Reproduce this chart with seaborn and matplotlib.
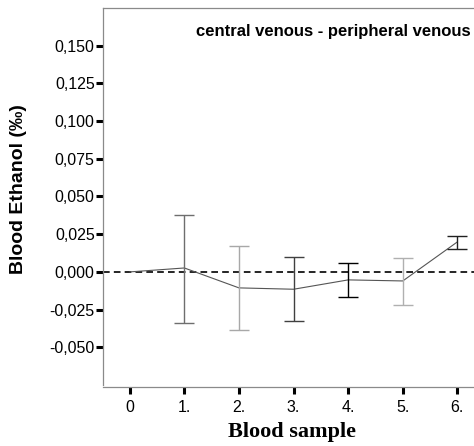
import matplotlib
matplotlib.use("Agg")
import matplotlib.pyplot as plt
import seaborn as sns
import pandas as pd
import numpy as np

samples = [0, 1, 2, 3, 4, 5, 6]
tick_labels = ["0", "1.", "2.", "3.", "4.", "5.", "6."]
means = [0.000, 0.0026, -0.0106, -0.0115, -0.0053, -0.0060, 0.0199]
upper = [0.000, 0.0378, 0.0170, 0.0102, 0.0058, 0.0091, 0.0241]
lower = [0.000, -0.0340, -0.0383, -0.0325, -0.0164, -0.0221, 0.0152]
bar_colors = ["#000000", "#6e6e6e", "#a8a8a8", "#404040", "#000000", "#b0b0b0", "#202020"]
yticks = [-0.050, -0.025, 0.000, 0.025, 0.050, 0.075, 0.100, 0.125, 0.150]
ytick_labels = ["-0,050", "-0,025", "0,000", "0,025", "0,050", "0,075", "0,100", "0,125", "0,150"]

sns.set_style("white")
SANS = ['Liberation Sans', 'DejaVu Sans']
plt.rcParams['font.family'] = SANS
plt.rcParams['text.color'] = 'black'

df = pd.DataFrame({"sample": samples, "mean": means})

fig = plt.figure(figsize=(4.74, 4.46), dpi=100)
ax = fig.add_axes([103/474, 61/446, 381.7/474, 377/446])

sns.lineplot(data=df, x="sample", y="mean", ax=ax, color="#555555", linewidth=0.8)

for i in range(1, len(samples)):
    ax.errorbar([samples[i]], [means[i]],
                yerr=[[means[i] - lower[i]], [upper[i] - means[i]]],
                fmt="none", ecolor=bar_colors[i], elinewidth=1.0, capsize=7.5, capthick=1.0)

ax.axhline(0, color="black", linestyle=(0, (4, 2.5)), linewidth=1.2, zorder=0.5)

ax.set_xlim(-0.49, 6.5)
ax.set_ylim(-0.075, 0.175)
ax.set_xticks(samples)
ax.set_xticklabels(tick_labels)
ax.set_yticks(yticks)
ax.set_yticklabels(ytick_labels)

for side in ["top", "left", "bottom"]:
    ax.spines[side].set_color("#8a8a8a")
    ax.spines[side].set_linewidth(0.9)
ax.spines["right"].set_visible(False)

ax.tick_params(axis="both", which="both", length=5, width=2.2, color="black",
               labelsize=11.5, labelcolor="black", bottom=True, left=True, direction="out")
ax.tick_params(axis="x", pad=4)
ax.tick_params(axis="y", pad=1)
ax.spines["bottom"].set_position(("outward", 1.5))

ax.text(0.962, 0.937, "central venous - peripheral venous", transform=ax.transAxes,
        ha="right", va="center", fontsize=12, fontweight="bold", family=SANS, color="black")

ax.set_xlabel("")
ax.set_ylabel("")
fig.text(292/474, 1 - 432/446, "Blood sample", family="Liberation Serif", fontweight="bold",
         fontsize=16, ha="center", va="center", color="black")
fig.text(19/474, 1 - 189/446, "Blood Ethanol (‰)", family="Liberation Sans", fontweight="bold",
         fontsize=14, ha="center", va="center", rotation=90, color="black")

fig.savefig("out.png", dpi=100)
